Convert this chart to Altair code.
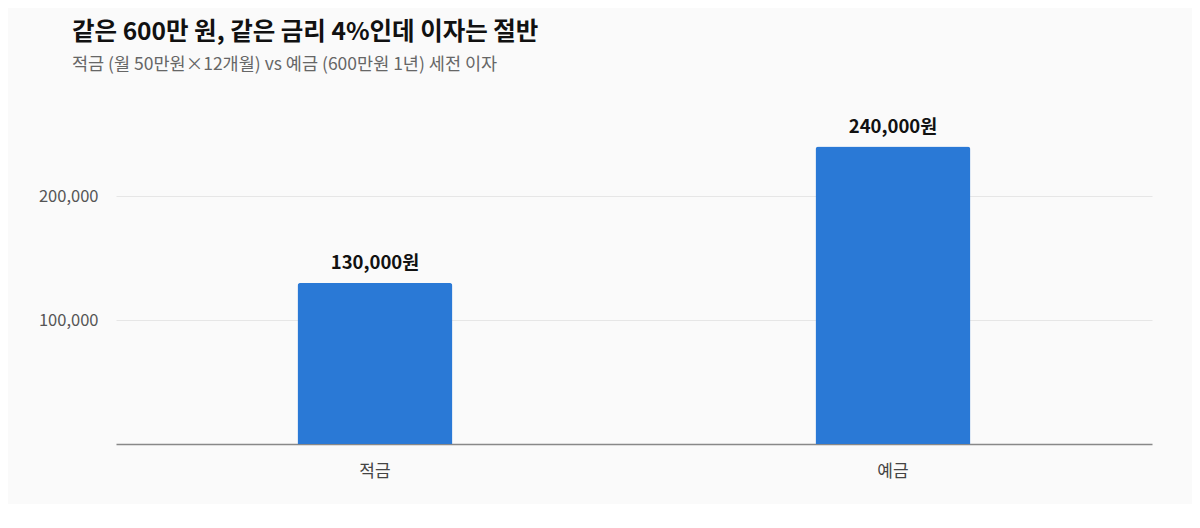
import altair as alt
import pandas

# Data
categories = ["적금", "예금"]
interest = [130000, 240000]
labels = ["130,000원", "240,000원"]

df = pandas.DataFrame({"category": categories, "interest": interest, "label": labels})

FONT = "Noto Sans CJK KR"

base = alt.Chart(df).encode(
    x=alt.X("category:N", sort=categories, title=None,
            scale=alt.Scale(paddingInner=0, paddingOuter=0),
            axis=alt.Axis(labelAngle=0, labelFontSize=17, labelColor="#444444",
                          labelPadding=19, ticks=False, domainColor="#888888",
                          domainWidth=1.5, labelFont=FONT)),
    y=alt.Y("interest:Q", title=None,
            scale=alt.Scale(domain=[0, 280000], nice=False),
            axis=alt.Axis(values=[100000, 200000], format=",.0f", labelFontSize=16.5,
                          labelColor="#555555", labelPadding=18, ticks=False,
                          domain=False, gridColor="#e6e6e6", labelFont=FONT)),
)

bars = base.mark_bar(width=155, color="#2a79d6", cornerRadiusTopLeft=3, cornerRadiusTopRight=3)

text = base.mark_text(baseline="bottom", dy=-10, fontSize=18.5, fontWeight="bold",
                      color="#111111", font=FONT).encode(text="label:N")

chart = (
    (bars + text)
    .properties(
        width=1036, height=347,
        autosize=alt.AutoSizeParams(type="none"),
        padding={"left": 108, "top": 89, "right": 40, "bottom": 60},
        background="#fafafa",
        title=alt.Title(
            text="같은 600만 원, 같은 금리 4%인데 이자는 절반",
            subtitle="적금 (월 50만원×12개월) vs 예금 (600만원 1년) 세전 이자",
            anchor="start", frame="group", dx=-44, offset=23,
            font=FONT, fontSize=24.5, fontWeight="bold", color="#111111",
            subtitleFont=FONT, subtitleFontSize=17.5, subtitleColor="#666666",
            subtitlePadding=10,
        ),
    )
    .configure_view(stroke=None)
)

chart.save("out.html", embed_options={"renderer": "svg", "actions": False})
